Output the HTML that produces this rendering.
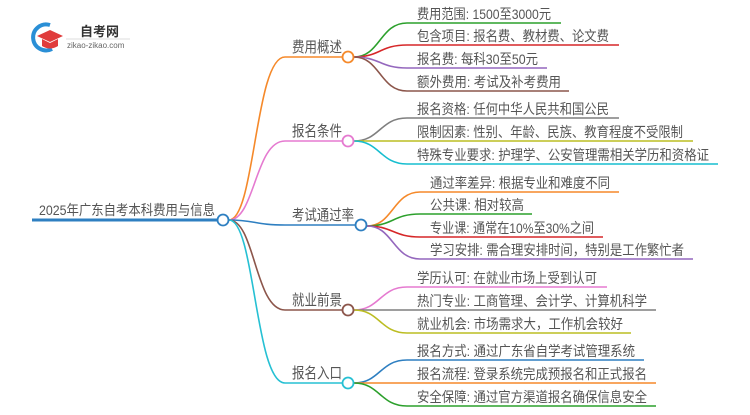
<!DOCTYPE html>
<html><head><meta charset="utf-8"><style>
body{margin:0;background:#fff;width:750px;height:410px;overflow:hidden}
svg text{font-family:"Liberation Sans","Noto Sans CJK SC",sans-serif;fill:#555}
</style></head><body>
<svg width="750" height="410" viewBox="0 0 750 410" xmlns="http://www.w3.org/2000/svg">
<path d="M50 25 A13 13 0 1 0 52 49" fill="none" stroke="#2a8fd6" stroke-width="4"/>
<polygon points="50,30 63,36 50,42 37,36" fill="#e03c3c"/>
<path d="M42 39 v7 q8 5 16 0 v-7 l-8 4z" fill="#e03c3c"/>
<text x="80" y="36" font-size="13" font-weight="bold" style="fill:#333">自考网</text>
<line x1="66" y1="39" x2="130" y2="39" stroke="#ddd"/>
<text x="67" y="48" font-size="8" style="fill:#666">zikao-zikao.com</text>
<g fill="none" stroke-width="1.6">
<line x1="32" y1="220" x2="217" y2="220" stroke="#2e7fc1" stroke-width="3"/>
<path d="M229 220 C255 220 255 57 285 57 H342" stroke="#f5892a"/>
<path d="M229 220 C255 220 255 141 285 141 H342" stroke="#e57ad0"/>
<path d="M229 220 C255 220 255 225 285 225 H355" stroke="#2e7fc1"/>
<path d="M229 220 C255 220 255 310 285 310 H342" stroke="#8c564b"/>
<path d="M229 220 C255 220 255 383 285 383 H342" stroke="#26c0d3"/>
<path d="M354 57 C380 57 380 23 407 23 H561" stroke="#2ca02c"/>
<path d="M354 57 C380 57 380 45 407 45 H619" stroke="#d62728"/>
<path d="M354 57 C380 57 380 68 407 68 H547" stroke="#9467bd"/>
<path d="M354 57 C380 57 380 91 407 91 H569" stroke="#8c564b"/>
<path d="M354 141 C380 141 380 118 407 118 H619" stroke="#7f7f7f"/>
<path d="M354 141 C380 141 380 141 407 141 H693" stroke="#bcbd22"/>
<path d="M354 141 C380 141 380 164 407 164 H718" stroke="#17becf"/>
<path d="M367 226 C393 226 393 192 420 192 H619" stroke="#f5892a"/>
<path d="M367 226 C393 226 393 214 420 214 H532" stroke="#2ca02c"/>
<path d="M367 226 C393 226 393 237 420 237 H603" stroke="#d62728"/>
<path d="M367 226 C393 226 393 259 420 259 H693" stroke="#9467bd"/>
<path d="M354 310 C380 310 380 287 407 287 H607" stroke="#e57ad0"/>
<path d="M354 310 C380 310 380 310 407 310 H656" stroke="#7f7f7f"/>
<path d="M354 310 C380 310 380 333 407 333 H631" stroke="#bcbd22"/>
<path d="M354 383 C380 383 380 360 407 360 H644" stroke="#2e7fc1"/>
<path d="M354 383 C380 383 380 383 407 383 H656" stroke="#f5892a"/>
<path d="M354 383 C380 383 380 406 407 406 H656" stroke="#2ca02c"/>
</g>
<g fill="#fff" stroke-width="1.8">
<circle cx="223" cy="220" r="5.5" stroke="#2e7fc1"/>
<circle cx="348" cy="57" r="5.5" stroke="#f5892a"/>
<circle cx="348" cy="141" r="5.5" stroke="#e57ad0"/>
<circle cx="361" cy="225" r="5.5" stroke="#2e7fc1"/>
<circle cx="348" cy="310" r="5.5" stroke="#8c564b"/>
<circle cx="348" cy="383" r="5.5" stroke="#26c0d3"/>
</g>
<text x="39" y="215" font-size="14" textLength="176" lengthAdjust="spacingAndGlyphs">2025年广东自考本科费用与信息</text>
<g font-size="15">
<text x="292" y="52" textLength="50" lengthAdjust="spacingAndGlyphs">费用概述</text>
<text x="292" y="136" textLength="50" lengthAdjust="spacingAndGlyphs">报名条件</text>
<text x="292" y="220" textLength="62" lengthAdjust="spacingAndGlyphs">考试通过率</text>
<text x="292" y="305" textLength="50" lengthAdjust="spacingAndGlyphs">就业前景</text>
<text x="292" y="378" textLength="50" lengthAdjust="spacingAndGlyphs">报名入口</text>
</g>
<g font-size="14" lengthAdjust="spacingAndGlyphs">
<text x="417" y="19" textLength="134" lengthAdjust="spacingAndGlyphs">费用范围: 1500至3000元</text>
<text x="417" y="41" textLength="192" lengthAdjust="spacingAndGlyphs">包含项目: 报名费、教材费、论文费</text>
<text x="417" y="64" textLength="121" lengthAdjust="spacingAndGlyphs">报名费: 每科30至50元</text>
<text x="417" y="87" textLength="144" lengthAdjust="spacingAndGlyphs">额外费用: 考试及补考费用</text>
<text x="417" y="114" textLength="192" lengthAdjust="spacingAndGlyphs">报名资格: 任何中华人民共和国公民</text>
<text x="417" y="137" textLength="266" lengthAdjust="spacingAndGlyphs">限制因素: 性别、年龄、民族、教育程度不受限制</text>
<text x="417" y="160" textLength="292" lengthAdjust="spacingAndGlyphs">特殊专业要求: 护理学、公安管理需相关学历和资格证</text>
<text x="430" y="188" textLength="180" lengthAdjust="spacingAndGlyphs">通过率差异: 根据专业和难度不同</text>
<text x="430" y="210" textLength="94" lengthAdjust="spacingAndGlyphs">公共课: 相对较高</text>
<text x="430" y="233" textLength="164" lengthAdjust="spacingAndGlyphs">专业课: 通常在10%至30%之间</text>
<text x="430" y="255" textLength="254" lengthAdjust="spacingAndGlyphs">学习安排: 需合理安排时间，特别是工作繁忙者</text>
<text x="417" y="283" textLength="180" lengthAdjust="spacingAndGlyphs">学历认可: 在就业市场上受到认可</text>
<text x="417" y="306" textLength="230" lengthAdjust="spacingAndGlyphs">热门专业: 工商管理、会计学、计算机科学</text>
<text x="417" y="329" textLength="206" lengthAdjust="spacingAndGlyphs">就业机会: 市场需求大，工作机会较好</text>
<text x="417" y="356" textLength="218" lengthAdjust="spacingAndGlyphs">报名方式: 通过广东省自学考试管理系统</text>
<text x="417" y="379" textLength="230" lengthAdjust="spacingAndGlyphs">报名流程: 登录系统完成预报名和正式报名</text>
<text x="417" y="402" textLength="230" lengthAdjust="spacingAndGlyphs">安全保障: 通过官方渠道报名确保信息安全</text>
</g>
</svg>
</body></html>
